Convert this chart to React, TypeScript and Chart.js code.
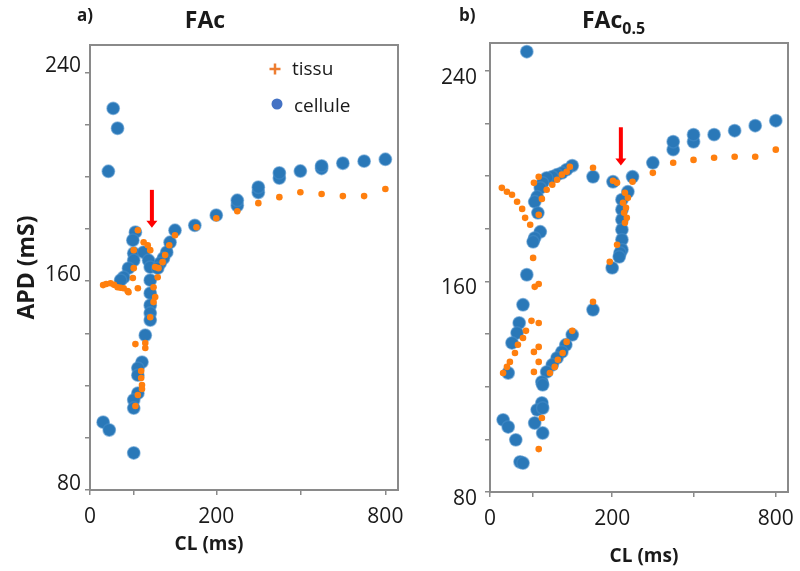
import { useEffect, useRef } from 'react';
import { Chart, registerables, LinearScale } from 'chart.js';

// ---------- axes ----------
// Broken CL axis: value knots and where they sit along the axis (fraction of width)
const X_AXIS_VALUES = [0, 100, 200, 500, 800, 850];
const X_AXIS_FRACS = [0, 0.142, 0.41, 0.683, 0.959, 1];
const X_TICKS = [0, 100, 200, 500, 800];
const X_TICK_LABELS = ['0', '', '200', '', '800'];
const Y_MIN = 80;
const Y_MAX = 250.5;
const Y_STEP = 20;
const Y_LABELED = [80, 160, 240];

// ---------- panel a) FAc ----------
const A_TISSU_CL = [105, 112, 117, 120, 100, 100, 98, 30, 37, 47, 55, 63, 70, 77, 86, 88, 105, 126, 129, 124, 126, 124, 120, 150, 143, 138, 135, 130, 176, 200, 275, 350, 425, 500, 575, 650, 725, 800, 102, 114, 114, 109, 109, 110, 110, 105, 102];
const A_TISSU_APD = [179.5, 174.9, 173.8, 171.9, 171.9, 165, 161.2, 158.5, 158.9, 159.2, 158.6, 157.7, 157.5, 157.3, 156.2, 155.8, 157.3, 165.4, 161.5, 157.7, 153.9, 152, 146.2, 177.6, 173.8, 170, 167.3, 165, 180.7, 184.1, 186.8, 189.9, 192.2, 194.1, 193.4, 192.6, 192.6, 195.3, 135.9, 136.3, 134.4, 125.6, 122.9, 120.2, 118.7, 116.4, 112.2];
const A_CELL_CL = [53, 63, 42, 102, 98, 100, 100, 88, 77, 70, 112, 118, 120, 120, 120, 120, 120, 120, 150, 144, 140, 136, 132, 129, 174, 200, 275, 275, 350, 350, 425, 425, 500, 575, 575, 650, 725, 800, 114, 110, 105, 105, 105, 100, 100, 30, 44, 100];
const A_CELL_APD = [226.2, 218.6, 202.1, 178.8, 175.7, 170.7, 168, 165, 161.5, 160.4, 171.1, 168, 165.4, 160.4, 155.4, 150.8, 147.8, 145.1, 179.5, 174.9, 171.1, 168.8, 166.9, 165, 181.4, 185.3, 189, 191, 194, 196, 199.5, 201.5, 202.2, 203.2, 204.2, 205.2, 206, 206.7, 139.3, 129, 126.7, 124, 117.1, 114.5, 111.4, 106, 103, 94.2];
const A_ARROW = { cl: 122, from: 195, to: 180.5 };

// ---------- panel b) FAc0.5 ----------
const B_TISSU_CL = [350, 425, 500, 575, 650, 725, 800, 275, 176, 203, 218, 247, 258, 240, 251, 244, 254, 247, 218, 197, 176, 147, 143, 137, 131, 125, 118, 108, 102, 112, 108, 28, 40, 52, 64, 76, 83, 95, 101, 103, 108, 98, 108, 85, 78, 66, 59, 47, 40, 31, 108, 102, 108, 102, 150, 143, 138, 132, 128, 122, 112, 108];
const B_TISSU_APD = [201.2, 205, 206.1, 206.9, 207.3, 207.3, 210, 197.8, 203.1, 198.2, 197.4, 193.6, 191.7, 189.8, 187.9, 186, 184.1, 182.2, 173.9, 167.4, 152.2, 203.5, 201.6, 200.5, 198.6, 196.7, 194.8, 199.7, 197.4, 191.3, 185.3, 195.5, 194, 192.9, 190.2, 187.5, 184.1, 181.5, 168.9, 157.9, 159, 145, 144.2, 141.2, 138.5, 135.9, 132.8, 129.4, 127.5, 125.2, 135.1, 133.2, 129.4, 125.6, 141.2, 137, 132.8, 130.2, 127.5, 125.2, 108.1, 96.3];
const B_CELL_CL = [87, 350, 425, 425, 500, 500, 575, 650, 725, 800, 275, 176, 203, 258, 236, 236, 236, 236, 236, 236, 229, 226, 200, 176, 150, 143, 137, 131, 125, 118, 113, 110, 106, 103, 107, 110, 103, 101, 87, 78, 69, 64, 52, 43, 150, 142, 137, 131, 125, 118, 112, 113, 112, 106, 113, 103, 113, 31, 43, 61, 71, 78];
const B_CELL_APD = [247.2, 205, 210, 213, 213, 215.7, 215.7, 217.2, 219.1, 221, 199.7, 199.7, 197.8, 194, 191, 187.2, 183.4, 179.6, 175.8, 172, 170.8, 169.3, 165.1, 149.2, 203.9, 202.4, 201.2, 200.5, 199.7, 199.3, 197.4, 195.5, 192.1, 190.2, 186, 178.8, 176.5, 175, 162.5, 151.1, 144.2, 140.4, 136.6, 125.2, 139.7, 135.9, 133.2, 130.9, 128.3, 125.6, 121.8, 120.7, 113.8, 111.2, 111.9, 106.2, 102.4, 107.4, 104.7, 99.8, 91.4, 91];
const B_ARROW = { cl: 232, from: 218.5, to: 204 };

const ORANGE = '#ff7f0e';
const BLUE = '#2a78b8';
const BLUE_HALO = 'rgba(70,140,200,0.55)';
const AXIS_GRAY = '#8a8a8a';
const TEXT = '#1a1a1a';
const FONT = "'Open Sans', sans-serif";

function toFrac(v: number) {
  const xs = X_AXIS_VALUES, fs = X_AXIS_FRACS;
  let i = 1;
  while (i < xs.length - 1 && v > xs[i]) i++;
  const t = (v - xs[i - 1]) / (xs[i] - xs[i - 1]);
  return fs[i - 1] + t * (fs[i] - fs[i - 1]);
}
function fromFrac(f: number) {
  const xs = X_AXIS_VALUES, fs = X_AXIS_FRACS;
  let i = 1;
  while (i < fs.length - 1 && f > fs[i]) i++;
  const t = (f - fs[i - 1]) / (fs[i] - fs[i - 1]);
  return xs[i - 1] + t * (xs[i] - xs[i - 1]);
}

class BrokenScale extends LinearScale {
  static id = 'broken';
  static defaults = { ...(LinearScale as any).defaults };
  buildTicks() {
    return X_TICKS.map((value) => ({ value }));
  }
  _calculatePadding() {
    const s = this as any;
    s.paddingLeft = 0;
    s.paddingRight = 0;
    s.paddingTop = 0;
    s.paddingBottom = 0;
  }
  getPixelForValue(value: number) {
    return (this as any).getPixelForDecimal(toFrac(value));
  }
  getValueForPixel(pixel: number) {
    return fromFrac((this as any).getDecimalForPixel(pixel));
  }
}

Chart.register(...registerables, BrokenScale as any);

function zip(xs: number[], ys: number[]) {
  return xs.map((x, i) => ({ x, y: ys[i] }));
}

const framePlugin = {
  id: 'frame',
  afterDraw(chart: any) {
    const { ctx, chartArea: a } = chart;
    ctx.save();
    ctx.strokeStyle = AXIS_GRAY;
    ctx.lineWidth = 2;
    ctx.strokeRect(a.left, a.top, a.right - a.left, a.bottom - a.top);
    ctx.restore();
  },
};

function arrowPlugin(arrow: { cl: number; from: number; to: number }) {
  return {
    id: 'arrow',
    afterDatasetsDraw(chart: any) {
      const { ctx, scales } = chart;
      const x = scales.x.getPixelForValue(arrow.cl);
      const y0 = scales.y.getPixelForValue(arrow.from);
      const y1 = scales.y.getPixelForValue(arrow.to);
      ctx.save();
      ctx.fillStyle = '#ff0000';
      ctx.fillRect(x - 2, y0, 4, y1 - y0 - 6);
      ctx.beginPath();
      ctx.moveTo(x - 5.5, y1 - 7);
      ctx.lineTo(x + 5.5, y1 - 7);
      ctx.lineTo(x, y1);
      ctx.closePath();
      ctx.fill();
      ctx.restore();
    },
  };
}

function xTitlePlugin(text: string, dx: number, y: number) {
  return {
    id: 'xtitle',
    afterDraw(chart: any) {
      const { ctx, chartArea: a } = chart;
      ctx.save();
      ctx.font = `bold 19px ${FONT}`;
      ctx.fillStyle = TEXT;
      ctx.textAlign = 'center';
      ctx.textBaseline = 'middle';
      ctx.fillText(text, a.left + dx, y);
      ctx.restore();
    },
  };
}

const legendPlugin = {
  id: 'inlegend',
  afterDraw(chart: any) {
    const { ctx, chartArea: a } = chart;
    const lx = a.left + 185;
    const ly = a.top + 24;
    ctx.save();
    ctx.strokeStyle = '#ed7d31';
    ctx.lineWidth = 2.5;
    ctx.beginPath();
    ctx.moveTo(lx - 5.5, ly);
    ctx.lineTo(lx + 5.5, ly);
    ctx.moveTo(lx, ly - 5.5);
    ctx.lineTo(lx, ly + 5.5);
    ctx.stroke();
    ctx.fillStyle = '#4472c4';
    ctx.beginPath();
    ctx.arc(lx + 2, ly + 35, 5.5, 0, Math.PI * 2);
    ctx.fill();
    ctx.font = `19px ${FONT}`;
    ctx.fillStyle = TEXT;
    ctx.textAlign = 'left';
    ctx.textBaseline = 'middle';
    ctx.fillText(chart.data.datasets[0].label, lx + 17, ly + 1);
    ctx.fillText(chart.data.datasets[1].label, lx + 19, ly + 38);
    ctx.restore();
  },
};

type PanelCfg = {
  tissu: any;
  cell: any;
  top: number;
  right: number;
  xHeight: number;
  yLabelOffset: number;
  yPad: number;
  yTitle: boolean;
  plugins: any[];
};

function buildConfig(p: PanelCfg): any {
  return {
    type: 'scatter',
    data: {
      datasets: [
        {
          label: 'tissu',
          data: p.tissu,
          backgroundColor: ORANGE,
          borderColor: ORANGE,
          pointRadius: 3.3,
          pointBorderWidth: 0,
          pointStyle: 'circle',
        },
        {
          label: 'cellule',
          data: p.cell,
          backgroundColor: BLUE,
          borderColor: BLUE_HALO,
          pointRadius: 6.2,
          pointBorderWidth: 1.5,
          pointStyle: 'circle',
        },
      ],
    },
    options: {
      responsive: false,
      animation: false,
      devicePixelRatio: 1,
      events: [],
      layout: { autoPadding: false, padding: { top: p.top, right: p.right, left: 0, bottom: 0 } },
      plugins: { legend: { display: false }, tooltip: { enabled: false }, title: { display: false } },
      scales: {
        x: {
          type: 'broken',
          min: 0,
          max: 850,
          afterFit: (s: any) => {
            s.height = p.xHeight;
            s.paddingLeft = 0;
            s.paddingRight = 0;
          },
          grid: { drawOnChartArea: false, drawTicks: true, tickLength: 5, color: AXIS_GRAY, lineWidth: 1.5 },
          border: { display: true, color: AXIS_GRAY, width: 2 },
          ticks: {
            autoSkip: false,
            maxRotation: 0,
            padding: 9,
            color: TEXT,
            font: { family: FONT, size: 21 },
            callback: (v: number) => {
              const i = X_TICKS.indexOf(v);
              return i >= 0 ? X_TICK_LABELS[i] : '';
            },
          },
          title: { display: false },
        },
        y: {
          type: 'linear',
          min: Y_MIN,
          max: Y_MAX,
          afterFit: (s: any) => {
            s.width = 90;
            s.paddingTop = 0;
            s.paddingBottom = 0;
          },
          grid: { drawOnChartArea: false, drawTicks: true, tickLength: 5, color: AXIS_GRAY, lineWidth: 1.5 },
          border: { display: true, color: AXIS_GRAY, width: 2 },
          ticks: {
            stepSize: Y_STEP,
            includeBounds: false,
            autoSkip: false,
            padding: p.yPad,
            labelOffset: p.yLabelOffset,
            color: TEXT,
            font: { family: FONT, size: 21 },
            callback: (v: number) => (Y_LABELED.includes(v) ? String(v) : ''),
          },
          title: {
            display: p.yTitle,
            text: 'APD (mS)',
            color: TEXT,
            font: { family: FONT, size: 23, weight: 'bold' },
            padding: { top: 14, bottom: 0 },
          },
        },
      },
    },
    plugins: [framePlugin, ...p.plugins],
  };
}

export default function App() {
  const refA = useRef<HTMLCanvasElement>(null);
  const refB = useRef<HTMLCanvasElement>(null);

  useEffect(() => {
    const a = new Chart(
      refA.current as HTMLCanvasElement,
      buildConfig({
        tissu: zip(A_TISSU_CL, A_TISSU_APD),
        cell: zip(A_CELL_CL, A_CELL_APD),
        top: 45,
        right: 12,
        xHeight: 81,
        yLabelOffset: -6,
        yPad: 4,
        yTitle: true,
        plugins: [arrowPlugin(A_ARROW), legendPlugin, xTitlePlugin('CL (ms)', 119, 545)],
      })
    );
    const b = new Chart(
      refB.current as HTMLCanvasElement,
      buildConfig({
        tissu: zip(B_TISSU_CL, B_TISSU_APD),
        cell: zip(B_CELL_CL, B_CELL_APD),
        top: 43,
        right: 12,
        xHeight: 79,
        yLabelOffset: 7,
        yPad: 8,
        yTitle: false,
        plugins: [arrowPlugin(B_ARROW), xTitlePlugin('CL (ms)', 154, 557)],
      })
    );
    return () => {
      a.destroy();
      b.destroy();
    };
  }, []);

  const bold = { position: 'absolute' as const, fontFamily: FONT, fontWeight: 700, color: TEXT, whiteSpace: 'nowrap' as const };

  return (
    <div style={{ position: 'absolute', left: 0, top: 0, width: 800, height: 571, background: '#fff', overflow: 'hidden' }}>
      <canvas ref={refA} width={410} height={571} style={{ position: 'absolute', left: 0, top: 0 }} />
      <canvas ref={refB} width={400} height={571} style={{ position: 'absolute', left: 400, top: 0 }} />
      <div style={{ ...bold, left: 77, top: 3, fontSize: 17, lineHeight: '24px' }}>a)</div>
      <div style={{ ...bold, left: 160, width: 90, textAlign: 'center', top: 4, fontSize: 23, lineHeight: '30px' }}>FAc</div>
      <div style={{ ...bold, left: 459, top: 3, fontSize: 17, lineHeight: '24px' }}>b)</div>
      <div style={{ ...bold, left: 582, top: 4, fontSize: 23, lineHeight: '30px' }}>
        FAc<span style={{ fontSize: 16, position: 'relative', top: 6 }}>0.5</span>
      </div>
    </div>
  );
}
